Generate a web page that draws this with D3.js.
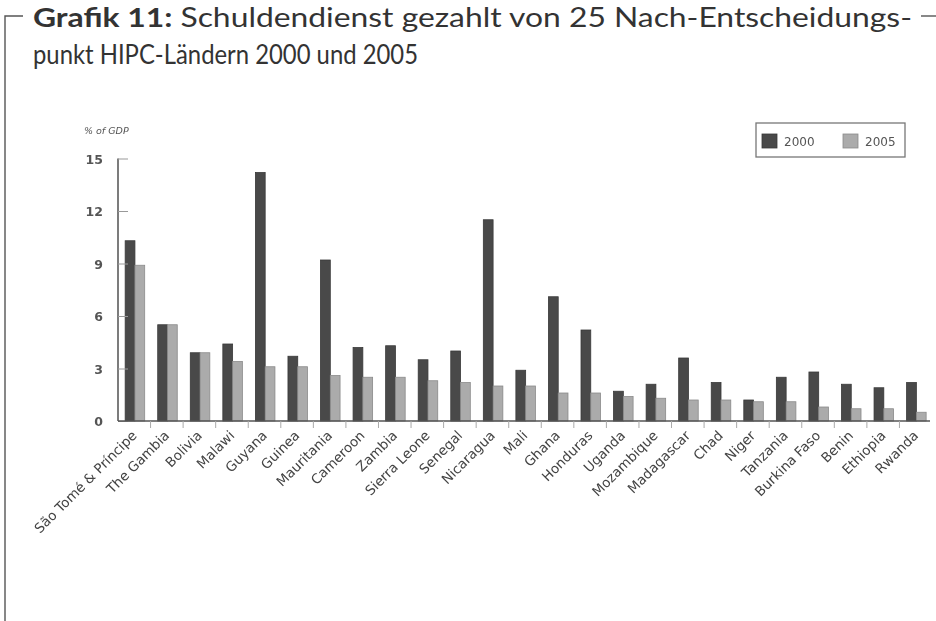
<!DOCTYPE html>
<html>
<head>
<meta charset="utf-8">
<script src="https://cdn.jsdelivr.net/npm/d3@7"></script>
<style>
  html, body { margin: 0; padding: 0; background: #fff; }
  svg { display: block; }
</style>
</head>
<body>
<svg id="chart" width="936" height="621"></svg>
<script>
// Debt service paid, % of GDP, 25 post-decision-point HIPC countries
const countries = [
  "São Tomé & Príncipe", "The Gambia", "Bolivia", "Malawi", "Guyana", "Guinea",
  "Mauritania", "Cameroon", "Zambia", "Sierra Leone", "Senegal", "Nicaragua",
  "Mali", "Ghana", "Honduras", "Uganda", "Mozambique", "Madagascar", "Chad",
  "Niger", "Tanzania", "Burkina Faso", "Benin", "Ethiopia", "Rwanda"
];
const values2000 = [10.3, 5.5, 3.9, 4.4, 14.2, 3.7, 9.2, 4.2, 4.3, 3.5, 4.0, 11.5,
  2.9, 7.1, 5.2, 1.7, 2.1, 3.6, 2.2, 1.2, 2.5, 2.8, 2.1, 1.9, 2.2];
const values2005 = [8.9, 5.5, 3.9, 3.4, 3.1, 3.1, 2.6, 2.5, 2.5, 2.3, 2.2, 2.0,
  2.0, 1.6, 1.6, 1.4, 1.3, 1.2, 1.2, 1.1, 1.1, 0.8, 0.7, 0.7, 0.5];
const seriesNames = ["2000", "2005"];
const yTicks = [0, 3, 6, 9, 12, 15];
const titleBold = "Grafik 11:";
const titleRest = " Schuldendienst gezahlt von 25 Nach-Entscheidungs-";
const titleLine2 = "punkt HIPC-Ländern 2000 und 2005";
const yAxisLabel = "% of GDP";

const colors = { "2000": "#4a4a4a", "2005": "#ababab" };
const strokes = { "2000": "#383838", "2005": "#8a8a8a" };
const chartFont = "'DejaVu Sans', Verdana, sans-serif";
const titleFont = "Lato, 'Open Sans', sans-serif";

const svg = d3.select("#chart");

// Soft print-like blur for the chart body
const defs = svg.append("defs");
defs.append("filter").attr("id", "soft")
  .attr("x", "-5%").attr("y", "-5%").attr("width", "110%").attr("height", "110%")
  .append("feGaussianBlur").attr("stdDeviation", 0.75);

// Frame lines around the figure
const frame = svg.append("g").attr("stroke", "#555").attr("stroke-width", 1.4).attr("fill", "none");
frame.append("path").attr("d", "M5,621 V16 H23");
frame.append("path").attr("d", "M921,16 H936");

// Title
const title = svg.append("text")
  .attr("x", 33).attr("y", 27)
  .attr("font-family", titleFont)
  .attr("font-size", 27)
  .attr("fill", "#333")
  .attr("textLength", 879).attr("lengthAdjust", "spacingAndGlyphs");
title.append("tspan").attr("font-weight", "bold").text(titleBold);
title.append("tspan").text(titleRest);
svg.append("text")
  .attr("x", 33).attr("y", 64)
  .attr("font-family", titleFont)
  .attr("font-size", 26)
  .attr("fill", "#333")
  .attr("textLength", 385).attr("lengthAdjust", "spacingAndGlyphs")
  .text(titleLine2);

// Chart
const g = svg.append("g").attr("filter", "url(#soft)");
const x0 = 118, x1 = 932, yTop = 158.5, yBase = 421;

const x = d3.scaleBand().domain(countries).range([x0, x1]).paddingInner(0).paddingOuter(0);
const xs = d3.scaleBand().domain(seriesNames)
  .range([x.bandwidth() * 0.22, x.bandwidth() * 0.82]).padding(0);
const y = d3.scaleLinear().domain([0, 15]).range([yBase, yTop]);

const rows = countries.map((c, i) => ({ c, "2000": values2000[i], "2005": values2005[i] }));

// Bars
const grp = g.append("g").selectAll("g").data(rows).join("g")
  .attr("transform", d => `translate(${x(d.c)},0)`);
grp.selectAll("rect").data(d => seriesNames.map(k => ({ k, v: d[k] }))).join("rect")
  .attr("x", d => xs(d.k))
  .attr("width", xs.bandwidth())
  .attr("y", d => y(d.v))
  .attr("height", d => y(0) - y(d.v))
  .attr("fill", d => colors[d.k])
  .attr("stroke", d => strokes[d.k])
  .attr("stroke-width", 0.8);

// Y axis
const yAxis = g.append("g").attr("transform", `translate(${x0},0)`)
  .call(d3.axisRight(y).tickValues(yTicks).tickSize(10).tickFormat(""));
yAxis.select(".domain").attr("stroke", "#666").attr("stroke-width", 1.7)
  .attr("d", `M0,${yTop}V${yBase}`);
yAxis.selectAll(".tick line").attr("stroke", "#999").attr("stroke-width", 1);
g.append("g").selectAll("text").data(yTicks).join("text")
  .attr("x", x0 - 15).attr("y", d => y(d) + 5)
  .attr("text-anchor", "end")
  .attr("font-family", chartFont)
  .attr("font-size", 12.5).attr("font-weight", "bold")
  .attr("fill", "#555")
  .text(d => d);
g.append("text")
  .attr("x", 84).attr("y", 134)
  .attr("font-family", chartFont)
  .attr("font-size", 9.5).attr("font-style", "italic")
  .attr("fill", "#555")
  .text(yAxisLabel);

// X axis
g.append("g").attr("transform", `translate(0,${yBase})`)
  .call(d3.axisBottom(x).tickSize(0).tickFormat(""))
  .call(a => a.selectAll(".tick").remove())
  .select(".domain").attr("stroke", "#555").attr("stroke-width", 1.7)
  .attr("d", `M${x0},0H930`);
g.append("g").selectAll("line").data(countries.slice(1)).join("line")
  .attr("x1", d => x(d)).attr("x2", d => x(d))
  .attr("y1", yBase).attr("y2", yBase + 7)
  .attr("stroke", "#aaa").attr("stroke-width", 1);

// Rotated country labels
g.append("g").selectAll("text").data(countries).join("text")
  .attr("transform", d => `translate(${x(d) + x.bandwidth() * 0.5},${yBase + 12}) rotate(-45)`)
  .attr("text-anchor", "end")
  .attr("dy", "0.35em")
  .attr("font-family", chartFont)
  .attr("font-size", 13.5)
  .attr("fill", "#444")
  .text(d => d);

// Legend
const lg = g.append("g");
lg.append("rect").attr("x", 756).attr("y", 123).attr("width", 149).attr("height", 34)
  .attr("fill", "#fff").attr("stroke", "#777").attr("stroke-width", 1.3);
const legendX = { "2000": 762, "2005": 843 };
seriesNames.forEach(k => {
  lg.append("rect").attr("x", legendX[k]).attr("y", 134).attr("width", 15).attr("height", 14)
    .attr("fill", colors[k]).attr("stroke", strokes[k]).attr("stroke-width", 0.8);
  lg.append("text").attr("x", legendX[k] + 22).attr("y", 146)
    .attr("font-family", chartFont)
    .attr("font-size", 12).attr("fill", "#555")
    .text(k);
});
</script>
</body>
</html>
